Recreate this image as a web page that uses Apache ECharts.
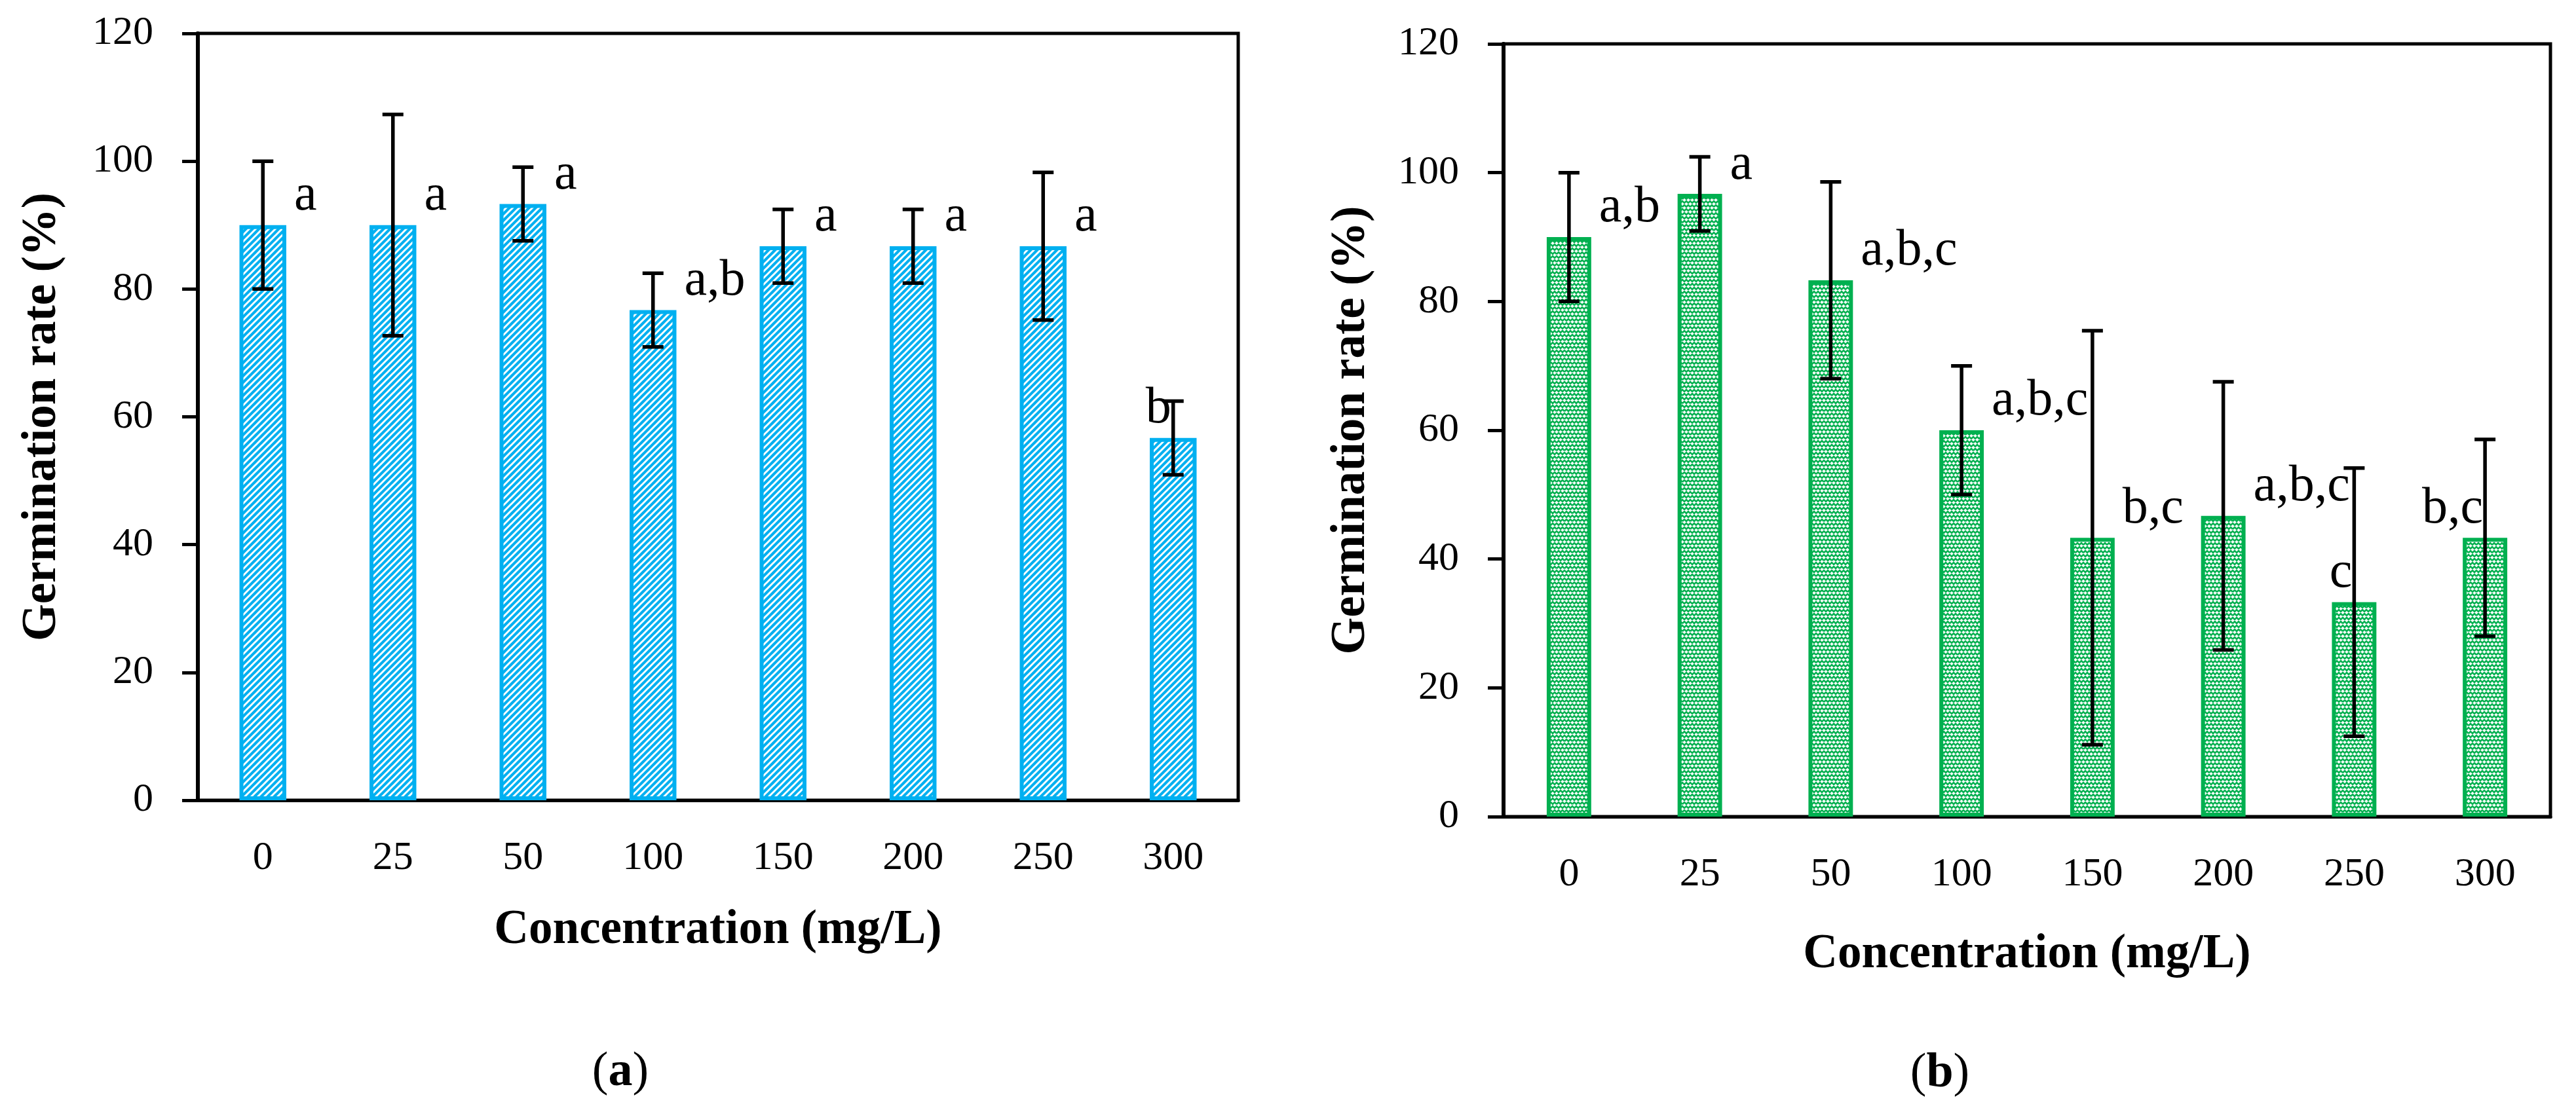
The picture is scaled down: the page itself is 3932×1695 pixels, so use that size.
<!doctype html>
<html lang="en">
  <head>
    <meta charset="UTF-8" />
    <title>Germination rate</title>
    <style>
      html,
      body {
        width: 100%;
        height: 100%;
        margin: 0;
        padding: 0;
        background: #fff;
      }
      #Echart {
        width: 100%;
        height: 100%;
      }
    </style>
  </head>

  <body>
    <div id="Echart"></div>
    <script type="text/javascript" src="https://cdn.jsdelivr.net/npm/echarts@6/dist/echarts.min.js"></script>
    <script type="text/javascript">
      // concentration (mg/L)
      const concentrations = ['0', '25', '50', '100', '150', '200', '250', '300']
      const yTicks = [0, 20, 40, 60, 80, 100, 120]

      // panel (a)
      const rateA = [90, 90, 93.3, 76.7, 86.7, 86.7, 86.7, 56.7]
      const sdA = [10, 17.32, 5.77, 5.77, 5.77, 5.77, 11.55, 5.77]
      const lettersA = ['a', 'a', 'a', 'a,b', 'a', 'a', 'a', 'b']

      // panel (b)
      const rateB = [90, 96.7, 83.3, 60, 43.3, 46.7, 33.3, 43.3]
      const sdB = [10, 5.77, 15.28, 10, 32.15, 20.82, 20.82, 15.28]
      const lettersB = ['a,b', 'a', 'a,b,c', 'a,b,c', 'b,c', 'a,b,c', 'c', 'b,c']

      const FONT = "'Liberation Serif', 'DejaVu Serif', serif"
      const BLUE = '#00B0F0'
      const GREEN = '#00B050'

      // which side of the error bar each letter sits on
      const sideA = ['r', 'r', 'r', 'r', 'r', 'r', 'r', 'l']
      const sideB = ['r', 'r', 'r', 'r', 'r', 'r', 'l', 'l']

      function stripePattern() {
        const c = document.createElement('canvas')
        c.width = 10
        c.height = 10
        const ctx = c.getContext('2d')
        ctx.fillStyle = BLUE
        ctx.fillRect(0, 0, 10, 10)
        ctx.strokeStyle = '#fff'
        ctx.lineWidth = 3
        ctx.beginPath()
        ctx.moveTo(-5, 5)
        ctx.lineTo(5, -5)
        ctx.moveTo(0, 10)
        ctx.lineTo(10, 0)
        ctx.moveTo(5, 15)
        ctx.lineTo(15, 5)
        ctx.stroke()
        return c
      }

      // small green zigzag weave on white
      function weavePattern() {
        const c = document.createElement('canvas')
        c.width = 12
        c.height = 12
        const ctx = c.getContext('2d')
        ctx.fillStyle = '#fff'
        ctx.fillRect(0, 0, 12, 12)
        ctx.strokeStyle = GREEN
        ctx.lineWidth = 2.6
        ctx.beginPath()
        ctx.moveTo(0, 4)
        ctx.lineTo(3, 1)
        ctx.lineTo(6, 4)
        ctx.lineTo(9, 1)
        ctx.lineTo(12, 4)
        ctx.moveTo(-3, 10)
        ctx.lineTo(0, 7)
        ctx.lineTo(3, 10)
        ctx.lineTo(6, 7)
        ctx.lineTo(9, 10)
        ctx.lineTo(12, 7)
        ctx.lineTo(15, 10)
        ctx.stroke()
        return c
      }

      function xAxisCfg(idx, gap) {
        return {
          type: 'category',
          gridIndex: idx,
          data: concentrations,
          name: 'Concentration (mg/L)',
          nameLocation: 'middle',
          nameGap: gap,
          nameTextStyle: { fontFamily: FONT, fontSize: 73, fontWeight: 'bold', color: '#000' },
          axisLine: { lineStyle: { color: '#000', width: 5 } },
          axisTick: { length: 21, lineStyle: { color: '#000', width: 5 } },
          axisLabel: { margin: 58, fontFamily: FONT, fontSize: 62, color: '#000' },
          splitLine: { show: false },
        }
      }

      function yAxisCfg(idx, gap) {
        return {
          type: 'value',
          gridIndex: idx,
          min: yTicks[0],
          max: yTicks[yTicks.length - 1],
          interval: yTicks[1] - yTicks[0],
          name: 'Germination rate (%)',
          nameLocation: 'middle',
          nameGap: gap,
          nameRotate: 90,
          nameTextStyle: { fontFamily: FONT, fontSize: 73, fontWeight: 'bold', color: '#000' },
          axisLine: { show: true, lineStyle: { color: '#000', width: 6 } },
          axisTick: { show: true, length: 24, lineStyle: { color: '#000', width: 5 } },
          axisLabel: { margin: 68, fontFamily: FONT, fontSize: 62, color: '#000' },
          splitLine: { show: false },
        }
      }

      function errorSeries(idx, means, sds) {
        return {
          type: 'custom',
          xAxisIndex: idx,
          yAxisIndex: idx,
          z: 5,
          data: means.map((m, i) => [i, m, sds[i]]),
          encode: { x: 0, y: 1 },
          renderItem: function (params, api) {
            const i = api.value(0)
            const m = api.value(1)
            const s = api.value(2)
            const top = api.coord([i, m + s])
            const bot = api.coord([i, m - s])
            const hw = 16
            const st = { stroke: '#000', lineWidth: 5.5 }
            return {
              type: 'group',
              children: [
                { type: 'line', shape: { x1: top[0], y1: top[1], x2: bot[0], y2: bot[1] }, style: st },
                { type: 'line', shape: { x1: top[0] - hw, y1: top[1], x2: top[0] + hw, y2: top[1] }, style: st },
                { type: 'line', shape: { x1: bot[0] - hw, y1: bot[1], x2: bot[0] + hw, y2: bot[1] }, style: st },
              ],
            }
          },
        }
      }

      function letterSeries(idx, means, letters, sides, barRatio) {
        return {
          type: 'custom',
          xAxisIndex: idx,
          yAxisIndex: idx,
          z: 6,
          data: means.map((m, i) => [i, m]),
          encode: { x: 0, y: 1 },
          renderItem: function (params, api) {
            const i = api.value(0)
            const p = api.coord([i, api.value(1)])
            const half = (api.size([1, 0])[0] * barRatio) / 2
            const left = sides[i] === 'l'
            return {
              type: 'text',
              style: {
                text: letters[i],
                x: left ? p[0] - 3 : p[0] + half + 12,
                y: p[1] - 44,
                textAlign: left ? 'right' : 'left',
                textVerticalAlign: 'middle',
                fontFamily: FONT,
                fontSize: 78,
                fill: '#000',
              },
            }
          },
        }
      }

      function caption(x, y, letter) {
        return {
          type: 'text',
          x: x,
          y: y,
          style: {
            text: '{p|(}{b|' + letter + '}{p|)}',
            textAlign: 'center',
            textVerticalAlign: 'middle',
            rich: {
              p: { fontFamily: FONT, fontSize: 74, fill: '#000' },
              b: { fontFamily: FONT, fontSize: 74, fontWeight: 'bold', fill: '#000' },
            },
          },
        }
      }

      const chart = echarts.init(document.getElementById('Echart'))
      const option = {
        backgroundColor: '#fff',
        animation: false,
        grid: [
          { left: 302, top: 51, width: 1588, height: 1171, show: true, borderColor: '#000', borderWidth: 5 },
          { left: 2295, top: 67, width: 1598, height: 1180, show: true, borderColor: '#000', borderWidth: 5 },
        ],
        xAxis: [xAxisCfg(0, 163), xAxisCfg(1, 175)],
        yAxis: [yAxisCfg(0, 200), yAxisCfg(1, 195)],
        series: [
          {
            type: 'bar',
            xAxisIndex: 0,
            yAxisIndex: 0,
            data: rateA,
            barWidth: '36%',
            itemStyle: { color: { image: stripePattern(), repeat: 'repeat' }, borderColor: BLUE, borderWidth: 6 },
          },
          errorSeries(0, rateA, sdA),
          letterSeries(0, rateA, lettersA, sideA, 0.36),
          {
            type: 'bar',
            xAxisIndex: 1,
            yAxisIndex: 1,
            data: rateB,
            barWidth: '34%',
            itemStyle: { color: { image: weavePattern(), repeat: 'repeat' }, borderColor: GREEN, borderWidth: 6 },
          },
          errorSeries(1, rateB, sdB),
          letterSeries(1, rateB, lettersB, sideB, 0.34),
        ],
        graphic: [caption(947, 1638, 'a'), caption(2961, 1640, 'b')],
      }
      chart.setOption(option)
      window.addEventListener('resize', () => {
        chart.resize()
      })
    </script>
  </body>
</html>
